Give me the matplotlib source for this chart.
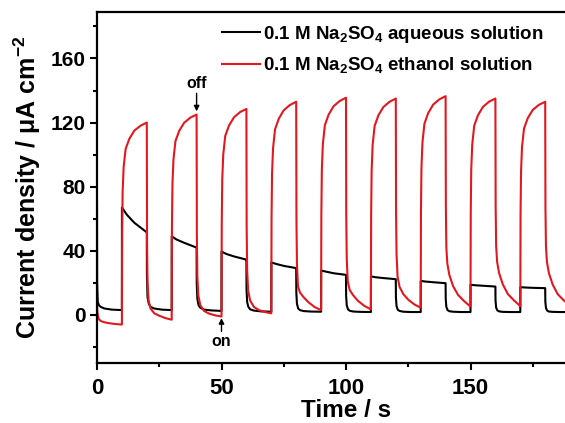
import matplotlib
matplotlib.use("Agg")
import matplotlib.pyplot as plt
from matplotlib.ticker import MultipleLocator
import numpy as np

plt.rcParams['font.family'] = ['Liberation Sans', 'DejaVu Sans']
plt.rcParams['font.weight'] = 'bold'
plt.rcParams['mathtext.fontset'] = 'custom'
plt.rcParams['mathtext.rm'] = 'Liberation Sans:bold'
plt.rcParams['mathtext.it'] = 'Liberation Sans:bold'
plt.rcParams['mathtext.bf'] = 'Liberation Sans:bold'
plt.rcParams['mathtext.default'] = 'rm'

# ---- data ----
on_times = [10, 30, 50, 70, 90, 110, 130, 150, 170]
off_times = [20, 40, 60, 80, 100, 120, 140, 160, 180]

# ethanol solution (red)
red_offsets = [0, 0.1, 0.3, 0.7, 1.5, 3, 5, 7.5, 10]
red_dark0 = [6, 3, 0, -2.5, -3.8, -4.6, -5.2, -5.7, -6]
red_on = [
    [-6, 50.7, 77.2, 92.3, 103.6, 109.9, 115, 118.1, 120],
    [-3, 54.6, 81.5, 96.8, 108.4, 114.8, 119.9, 123.1, 125],
    [-1, 57.3, 84.5, 100, 111.7, 118.1, 123.3, 126.6, 128.5],
    [1, 60.4, 88.1, 104, 115.8, 122.4, 127.7, 131, 133],
    [3, 62.6, 90.5, 106.4, 118.3, 124.9, 130.2, 133.5, 135.5],
    [3.5, 62.7, 90.3, 106.1, 117.9, 124.5, 129.7, 133, 135],
    [4.5, 63.9, 91.6, 107.5, 119.3, 125.9, 131.2, 134.5, 136.5],
    [5.2, 63.6, 90.9, 106.4, 118.1, 124.6, 129.8, 133.1, 135],
    [5.5, 62.9, 89.7, 105, 116.4, 122.8, 127.9, 131.1, 133],
]
red_off = [
    [120, 45, 20, 9, 4, 1, -0.5, -2, -3],
    [125, 50, 24, 12, 6, 2.5, 0.8, -0.3, -1],
    [128.5, 55, 28, 15, 9, 5, 3, 1.8, 1],
    [133, 60, 32, 18, 14, 11, 7.8, 4.8, 3],
    [135.5, 62, 35, 21, 15.5, 12, 8.5, 5.5, 3.5],
    [135, 64, 38, 24, 17.5, 13, 9.5, 6.5, 4.5],
    [136.5, 68, 42, 32, 25, 18, 12.5, 8.5, 5.2],
    [135, 68, 43, 33, 26, 19, 13, 9, 5.5],
    [133, 67, 43, 33, 26, 19, 13, 9, 6],
]

# aqueous solution (black)
blk_off_offsets = [0, 0.05, 0.3, 0.8, 1.5, 3, 6, 10]
blk_on_offsets = [0, 0.02, 2, 5, 10]
blk_dark0 = [70, 20, 8, 6, 5, 4, 3.3, 3]
blk_on = [
    [3, 67, 62.5, 57.5, 51.5],
    [3, 49, 47, 45, 42],
    [2.5, 39.5, 38, 36.5, 34.5],
    [2, 32.7, 31.8, 30.6, 29.2],
    [2, 27.7, 27, 26, 25],
    [1.8, 24, 23.5, 23, 22.3],
    [1.8, 21.2, 20.8, 20.4, 19.8],
    [1.8, 18.8, 18.5, 18.2, 17.7],
    [1.8, 17.3, 17.1, 16.9, 16.7],
]
blk_off = [
    [51.5, 25, 11, 7, 5, 4, 3.3, 3],
    [42, 20, 10, 6, 4.5, 3.3, 2.8, 2.5],
    [34, 16, 8, 5, 3.5, 2.7, 2.2, 2],
    [29, 14, 7, 4, 3, 2.4, 2.1, 2],
    [25, 12, 6, 3.5, 2.6, 2.1, 1.9, 1.8],
    [22.3, 11, 5.5, 3.2, 2.5, 2, 1.8, 1.8],
    [19.8, 10, 5, 3, 2.3, 2, 1.8, 1.8],
    [17.7, 9, 4.5, 2.8, 2.2, 1.9, 1.8, 1.8],
    [16.7, 8.5, 4.3, 2.7, 2.1, 1.9, 1.8, 1.8],
]

labels = ['0.1 M Na$_2$SO$_4$ aqueous solution',
          '0.1 M Na$_2$SO$_4$ ethanol solution']
x_ticks = [0, 50, 100, 150]
y_ticks = [0, 40, 80, 120, 160]


def build(dark0, on_list, off_list, on_off, off_off):
    t = list(np.array(off_off) + 0)
    y = list(dark0)
    for ton, von, toff, voff in zip(on_times, on_list, off_times, off_list):
        t += list(np.array(on_off) + ton)
        y += list(von)
        t += list(np.array(off_off) + toff)
        y += list(voff)
    return np.array(t), np.array(y)


t_red, y_red = build(red_dark0, red_on, red_off, red_offsets, red_offsets)
t_blk, y_blk = build(blk_dark0, blk_on, blk_off, blk_on_offsets, blk_off_offsets)

fig = plt.figure(figsize=(5.65, 4.23), dpi=100)
W, H = 565, 423
x0, x1 = 97, 97 + 200 * 2.49
ax = fig.add_axes([x0 / W, 1 - 363 / H, (x1 - x0) / W, (363 - 12) / H])

ax.plot(t_blk, y_blk, color='black', lw=1.5, label=labels[0])
ax.plot(t_red, y_red, color='#e3171e', lw=1.5, label=labels[1])

ax.set_xlim(0, 200)
ax.set_ylim(-30, 189)
ax.set_xticks(x_ticks)
ax.xaxis.set_minor_locator(MultipleLocator(25))
ax.set_yticks(y_ticks)
ax.yaxis.set_minor_locator(MultipleLocator(20))

for s in ax.spines.values():
    s.set_linewidth(1.6)
ax.tick_params(which='major', direction='out', length=5, width=1.5)
ax.tick_params(which='minor', direction='out', length=3, width=1.5)
ax.tick_params(axis='x', labelsize=16, pad=6)
ax.tick_params(axis='y', labelsize=15, pad=3)
for lab in ax.get_xticklabels() + ax.get_yticklabels():
    lab.set_fontweight('bold')

ax.set_xlabel('Time / s', fontsize=17.5, fontweight='bold', labelpad=0)
ax.set_ylabel('Current density / μA cm$^{-2}$', fontsize=18, fontweight='bold', labelpad=6)

ax.annotate('off', xy=(40, 127), xytext=(40, 140), ha='center', va='bottom',
            fontsize=11.5, fontweight='bold',
            arrowprops=dict(arrowstyle='-|>', color='black', lw=1.0, mutation_scale=8,
                            shrinkA=0, shrinkB=0))
ax.annotate('on', xy=(50, -2), xytext=(50, -12), ha='center', va='top',
            fontsize=11.5, fontweight='bold',
            arrowprops=dict(arrowstyle='-|>', color='black', lw=1.0, mutation_scale=8,
                            shrinkA=0, shrinkB=0))

leg = ax.legend(loc='upper left', bbox_to_anchor=(222 / W, 1 - 24 / H),
                bbox_transform=fig.transFigure, frameon=False,
                fontsize=13.5, handlelength=2.0, handletextpad=0.2,
                labelspacing=0.55, borderaxespad=0, borderpad=0)
for txt in leg.get_texts():
    txt.set_fontweight('bold')

fig.savefig('out.png', dpi=100)
